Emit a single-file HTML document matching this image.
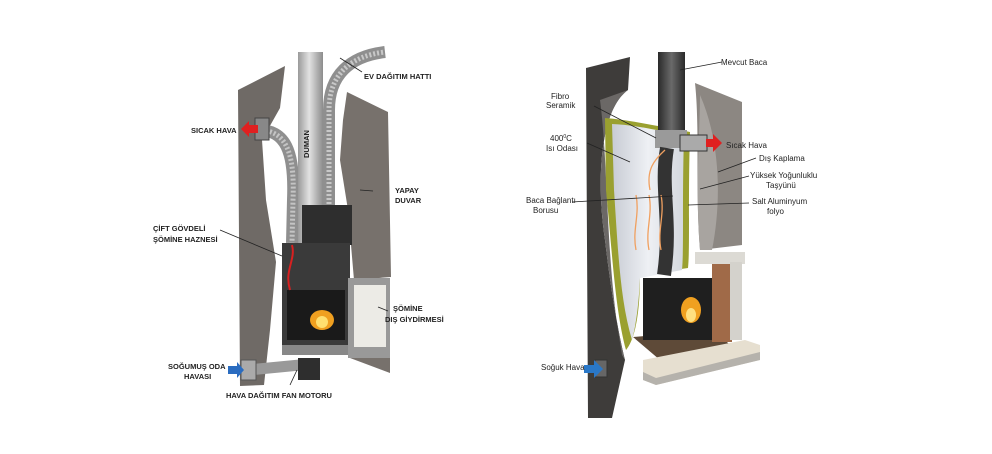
<!DOCTYPE html>
<html><head><meta charset="utf-8"><style>
html,body{margin:0;padding:0;background:#fff;}
svg{display:block}
text{font-family:"Liberation Sans",sans-serif;fill:#222;}
.l{font-size:7.5px;font-weight:bold;}
.r{font-size:8px;}
</style></head><body>
<svg width="992" height="454" viewBox="0 0 992 454" xmlns="http://www.w3.org/2000/svg">
<defs>
<linearGradient id="pipe" x1="0" x2="1"><stop offset="0" stop-color="#9a9a9a"/><stop offset="0.45" stop-color="#e2e2e2"/><stop offset="1" stop-color="#8c8c8c"/></linearGradient>
<linearGradient id="dpipe" x1="0" x2="1"><stop offset="0" stop-color="#2a2a2a"/><stop offset="0.5" stop-color="#6a6a6a"/><stop offset="1" stop-color="#2a2a2a"/></linearGradient>
<linearGradient id="ins" x1="0" x2="1"><stop offset="0" stop-color="#c8ccd4"/><stop offset="0.5" stop-color="#eef0f4"/><stop offset="1" stop-color="#d4d8de"/></linearGradient>
</defs>
<!-- LEFT -->
<path d="M238,90 L285,66 L280,108 L262,140 L266,200 L276,262 L270,330 L264,385 L240,386 Z" fill="#6f6a66"/>
<path d="M347,92 L388,112 L391,277 L354,280 L348,210 L340,160 L343,120 Z" fill="#77716c"/>
<path d="M350,325 L390,340 L390,373 L350,358 Z" fill="#77716c"/>
<path d="M258,130 C285,130 295,150 293,200 L292,243" stroke="#8f8f8f" stroke-width="12" fill="none"/>
<path d="M258,130 C285,130 295,150 293,200 L292,243" stroke="#c4c4c4" stroke-width="5" fill="none" stroke-dasharray="2 2"/>
<rect x="255" y="118" width="14" height="22" fill="#888" stroke="#444"/>
<path d="M258,125 L249,125 L249,121 L241,129 L249,137 L249,133 L258,133 Z" fill="#e02020"/>
<rect x="298" y="52" width="25" height="192" fill="url(#pipe)"/>
<text class="l" transform="translate(309,158) rotate(-90)" font-size="7">DUMAN</text>
<path d="M329,240 L329,110 C329,75 350,56 385,52" stroke="#8f8f8f" stroke-width="12" fill="none"/>
<path d="M329,240 L329,110 C329,75 350,56 385,52" stroke="#c8c8c8" stroke-width="5" fill="none" stroke-dasharray="2 2"/>
<rect x="302" y="205" width="50" height="40" fill="#2e2e2e"/>
<rect x="282" y="243" width="68" height="108" fill="#3a3a3a"/>
<rect x="287" y="290" width="58" height="50" fill="#1a1a1a"/>
<ellipse cx="322" cy="320" rx="12" ry="10" fill="#f0a020"/>
<ellipse cx="322" cy="322" rx="6" ry="6" fill="#ffe070"/>
<rect x="282" y="345" width="70" height="10" fill="#888"/>
<path d="M290,290 C284,270 296,260 292,245" stroke="#d82020" stroke-width="2" fill="none"/>
<rect x="348" y="278" width="42" height="80" fill="#999"/>
<rect x="354" y="285" width="32" height="62" fill="#ecebe6"/>
<path d="M248,370 L300,365" stroke="#999" stroke-width="11"/>
<rect x="241" y="360" width="15" height="20" fill="#aaa" stroke="#555"/>
<path d="M228,366 L237,366 L237,362 L244,370 L237,378 L237,374 L228,374 Z" fill="#2a6cc0"/>
<rect x="298" y="358" width="22" height="22" fill="#2e2e2e"/>
<g stroke="#222" stroke-width="0.8">
<line x1="362" y1="72" x2="340" y2="58"/>
<line x1="373" y1="191" x2="360" y2="190"/>
<line x1="220" y1="230" x2="282" y2="256"/>
<line x1="388" y1="311" x2="378" y2="307"/>
<line x1="290" y1="385" x2="297" y2="370"/>
</g>
<text class="l" x="364" y="79">EV DAĞITIM HATTI</text>
<text class="l" x="191" y="133">SICAK HAVA</text>
<text class="l" x="395" y="193">YAPAY</text>
<text class="l" x="395" y="203">DUVAR</text>
<text class="l" x="153" y="231">ÇİFT GÖVDELİ</text>
<text class="l" x="153" y="242">ŞÖMİNE HAZNESİ</text>
<text class="l" x="393" y="311">ŞÖMİNE</text>
<text class="l" x="385" y="322">DIŞ GİYDİRMESİ</text>
<text class="l" x="168" y="369">SOĞUMUŞ ODA</text>
<text class="l" x="184" y="379">HAVASI</text>
<text class="l" x="226" y="398">HAVA DAĞITIM FAN MOTORU</text>
<!-- RIGHT -->
<path d="M695,83 L742,102 L742,245 L700,250 C695,190 700,130 695,83 Z" fill="#8c8782"/>
<path d="M700,95 C720,140 722,200 712,250 L700,250 C695,190 700,130 700,95 Z" fill="#a8a4a0"/>
<path d="M586,68 L630,57 L628,90 C600,110 596,180 605,240 C612,300 620,340 625,360 L612,418 L588,418 Z" fill="#3e3c3a"/>
<path d="M600,100 C608,160 606,250 618,330 L622,355 L625,360 C620,340 612,300 605,240 C596,180 600,110 628,90 Z" fill="#6b6866"/>
<path d="M605,118 C630,120 650,125 670,128 L690,132 C688,200 690,250 688,268 L640,275 C640,330 630,345 626,350 C615,310 612,250 606,190 Z" fill="#9aa030"/>
<path d="M612,124 C635,125 655,130 668,132 L684,136 C682,200 684,250 682,270 L640,278 C638,320 633,335 632,340 C620,300 618,250 614,190 Z" fill="url(#ins)"/>
<rect x="658" y="52" width="27" height="90" fill="url(#dpipe)"/>
<rect x="655" y="130" width="32" height="18" fill="#9a9a9a"/>
<path d="M667,148 C660,190 672,220 664,275" stroke="#333" stroke-width="14" fill="none"/>
<rect x="680" y="135" width="27" height="16" fill="#aaa" stroke="#333"/>
<path d="M706,139 L713,139 L713,134 L722,143 L713,152 L713,147 L706,147 Z" fill="#e02020"/>
<g stroke="#f0a060" stroke-width="1.3" fill="none">
<path d="M636,250 C632,230 640,215 636,195"/><path d="M649,250 C645,230 653,215 649,195"/><path d="M661,250 C657,230 665,215 661,195"/>
<path d="M650,190 C646,170 654,160 665,150"/>
</g>
<path d="M633,337 L715,330 L730,345 L660,360 Z" fill="#5e4a38"/>
<rect x="643" y="278" width="72" height="62" fill="#1f1f1f"/>
<ellipse cx="691" cy="310" rx="10" ry="13" fill="#f0a020"/>
<ellipse cx="691" cy="315" rx="5" ry="7" fill="#ffe080"/>
<rect x="712" y="262" width="20" height="80" fill="#a06a48"/>
<rect x="695" y="252" width="50" height="12" fill="#dcdad4"/>
<rect x="730" y="262" width="12" height="78" fill="#d4d2cc"/>
<path d="M643,360 L745,340 L760,345 L760,360 L656,385 L643,380 Z" fill="#e6dfd0"/>
<path d="M643,372 L656,378 L760,352 L760,360 L656,385 L643,380 Z" fill="#b5b2ac"/>
<rect x="595" y="360" width="12" height="17" fill="#666" stroke="#333"/>
<path d="M584,365 L594,365 L594,360 L603,369 L594,378 L594,373 L584,373 Z" fill="#2a78c8"/>
<g stroke="#222" stroke-width="0.8">
<line x1="722" y1="62" x2="680" y2="70"/>
<line x1="594" y1="106" x2="656" y2="138"/>
<line x1="587" y1="143" x2="630" y2="162"/>
<line x1="756" y1="158" x2="718" y2="172"/>
<line x1="749" y1="176" x2="700" y2="189"/>
<line x1="749" y1="203" x2="688" y2="205"/>
<line x1="572" y1="202" x2="673" y2="196"/>
</g>
<text class="r" x="721" y="65">Mevcut Baca</text>
<text class="r" x="551" y="99">Fibro</text>
<text class="r" x="546" y="108">Seramik</text>
<text class="r" x="550" y="141">400<tspan font-size="5" dy="-3">0</tspan><tspan dy="3">C</tspan></text>
<text class="r" x="546" y="151">Isı Odası</text>
<text class="r" x="726" y="148">Sıcak Hava</text>
<text class="r" x="759" y="161">Dış Kaplama</text>
<text class="r" x="750" y="178">Yüksek Yoğunluklu</text>
<text class="r" x="766" y="188">Taşyünü</text>
<text class="r" x="752" y="204">Salt Aluminyum</text>
<text class="r" x="767" y="214">folyo</text>
<text class="r" x="526" y="203">Baca Bağlantı</text>
<text class="r" x="533" y="213">Borusu</text>
<text class="r" x="541" y="370">Soğuk Hava</text>
</svg>
</body></html>
